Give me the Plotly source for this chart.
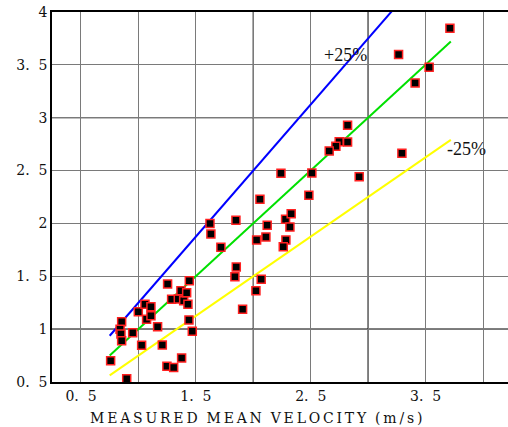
import plotly.graph_objects as go

# Measured vs predicted mean velocity (m/s)
measured = [0.758, 0.898, 0.854, 0.840, 0.848, 0.854, 0.950, 0.999, 1.057, 1.109,
            1.071, 1.109, 1.167, 1.028, 1.208, 1.254, 1.289, 1.347, 1.370, 1.394,
            1.420, 1.431, 1.443, 1.440, 1.469, 1.376, 1.248, 1.307,
            2.058, 2.484, 1.623, 1.631, 1.849, 1.718, 2.121, 2.029, 2.110, 2.281,
            2.330, 2.319, 2.284, 2.261, 1.852, 1.840, 2.069, 2.023, 1.907,
            2.821, 2.748, 2.821, 2.719, 2.661, 2.241, 2.510, 2.922,
            3.712, 3.265, 3.531, 3.409, 3.294]
predicted = [0.70, 0.53, 1.071, 0.998, 0.954, 0.891, 0.966, 1.165, 1.235, 1.212,
             1.093, 1.127, 1.023, 0.847, 0.850, 1.427, 1.282, 1.285, 1.364, 1.269,
             1.345, 1.235, 1.458, 1.087, 0.980, 0.727, 0.649, 0.636,
             2.228, 2.266, 2.000, 1.900, 2.030, 1.774, 1.982, 1.843, 1.872, 2.039,
             2.092, 1.966, 1.843, 1.780, 1.588, 1.496, 1.471, 1.364, 1.188,
             2.929, 2.773, 2.770, 2.730, 2.686, 2.474, 2.477, 2.442,
             3.846, 3.597, 3.477, 3.329, 2.664]

line_x = [0.75, 3.72]
ratio_plus, ratio_equal, ratio_minus = 1.25, 1.0, 0.75

NB = "\u00a0"
x_tickvals = [0.5, 1.0, 1.5, 2.0, 2.5, 3.0, 3.5, 4.0]
x_ticktext = ["0." + NB * 2 + "5", "", "1." + NB * 2 + "5", "",
              "2." + NB * 2 + "5", "", "3." + NB * 2 + "5", ""]
y_tickvals = [0.5, 1.0, 1.5, 2.0, 2.5, 3.0, 3.5, 4.0]
y_ticktext = ["0." + NB * 2 + "5", "1", "1." + NB * 2 + "5", "2",
              "2." + NB * 2 + "5", "3", "3." + NB * 2 + "5", "4"]

title_words = ["MEASURED", "MEAN", "VELOCITY", "(m/s)"]
title_text = (NB * 2).join("\u2009".join(w) for w in title_words)

tickfont = dict(family="DejaVu Serif", size=14, color="#111")

fig = go.Figure()
fig.add_trace(go.Scatter(x=line_x, y=[v * ratio_plus for v in line_x], mode="lines",
                         line=dict(color="#0000ff", width=2), showlegend=False))
fig.add_trace(go.Scatter(x=line_x, y=[v * ratio_equal for v in line_x], mode="lines",
                         line=dict(color="#00e000", width=2), showlegend=False))
fig.add_trace(go.Scatter(x=line_x, y=[v * ratio_minus for v in line_x], mode="lines",
                         line=dict(color="#ffff00", width=2), showlegend=False))
fig.add_trace(go.Scatter(x=measured, y=predicted, mode="markers",
                         marker=dict(symbol="square", size=8, color="black",
                                     line=dict(color="#ff2020", width=1.5)),
                         showlegend=False))

for xv in [2.0, 3.0]:
    fig.add_shape(type="line", xref="x", yref="paper", x0=xv, x1=xv, y0=0, y1=1,
                  line=dict(color="black", width=1.2), layer="below")
for yv in [1.0, 3.0]:
    fig.add_shape(type="line", xref="paper", yref="y", x0=0, x1=1, y0=yv, y1=yv,
                  line=dict(color="black", width=1.2), layer="below")

fig.add_annotation(x=2.80, y=3.59, text="+25%", showarrow=False,
                   font=dict(family="Liberation Serif", size=18, color="#111"))
fig.add_annotation(x=3.86, y=2.70, text="-25%", showarrow=False,
                   font=dict(family="Liberation Serif", size=18, color="#111"))
fig.add_annotation(xref="paper", yref="paper", x=0.447, y=-0.07, yanchor="top",
                   text=title_text, showarrow=False,
                   font=dict(family="DejaVu Serif", size=14, color="#111"))

fig.update_layout(
    width=508, height=427,
    margin=dict(l=52, r=0, t=12, b=45),
    plot_bgcolor="white", paper_bgcolor="white",
    hovermode=False,
    xaxis=dict(range=[0.2476, 4.2176], tickvals=x_tickvals, ticktext=x_ticktext,
               showgrid=True, gridcolor="#7a7a7a", gridwidth=1.2, zeroline=False,
               showline=True, linecolor="black", linewidth=1.5, mirror=True,
               ticks="", tickfont=tickfont),
    yaxis=dict(range=[0.5, 4.0], tickvals=y_tickvals, ticktext=y_ticktext,
               showgrid=True, gridcolor="#7a7a7a", gridwidth=1.2, zeroline=False,
               showline=True, linecolor="black", linewidth=1.5,
               ticks="", tickfont=tickfont),
)

fig.write_html("out.html",
               config=dict(displayModeBar=False),
               post_script="document.body.style.margin='0';"
                           "document.body.style.overflow='hidden';")
